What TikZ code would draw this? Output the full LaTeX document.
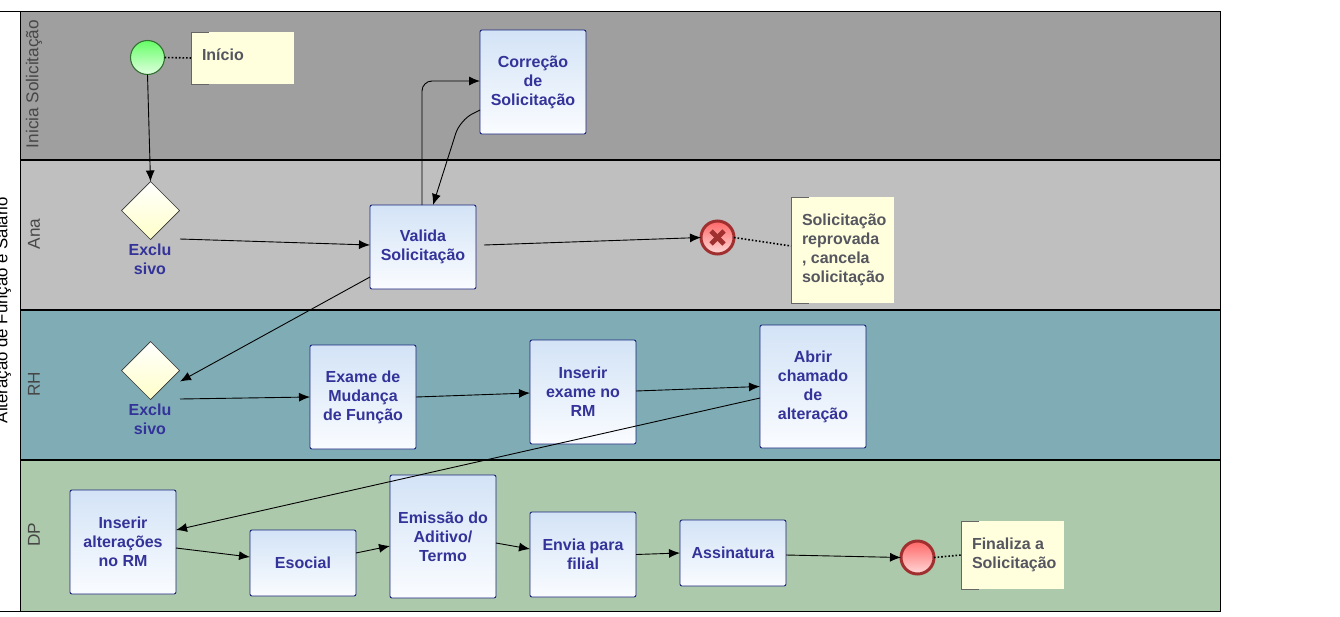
\documentclass[tikz,border=0pt]{standalone}
\usepackage{fontspec}
\setmainfont{Liberation Sans}
\usepackage{tikz}
\usetikzlibrary{arrows.meta, shapes.geometric}
\definecolor{laneA}{HTML}{9F9F9F}
\definecolor{laneB}{HTML}{BFBFBF}
\definecolor{laneC}{HTML}{80ADB5}
\definecolor{laneD}{HTML}{ADC9AB}
\definecolor{taskText}{HTML}{333399}
\definecolor{taskTop}{HTML}{D3E3F6}
\definecolor{taskBottom}{HTML}{FAFCFF}
\definecolor{taskLine}{HTML}{1A237E}
\definecolor{noteText}{HTML}{55565F}
\definecolor{noteFill}{HTML}{FFFFDE}
\definecolor{endLine}{HTML}{A03030}
\newcommand{\notebracket}[1]{
  \draw[bracket] ([xshift=18pt]#1.north west) -- (#1.north west) -- (#1.south west) -- ([xshift=18pt]#1.south west);
}
\tikzset{
  flow/.style={-{Latex[length=11pt,width=9pt]}, draw=black, line width=0.9pt},
  assoc/.style={dotted, draw=black, line width=1.6pt},
  bracket/.style={draw=black!60, line width=0.8pt},
  lanelabel/.style={rotate=90, text=black!72, font=\fontsize{17.2}{19}\selectfont},
  task/.style={draw=taskLine, line width=0.9pt, rounded corners=2pt, top color=taskTop, bottom color=taskBottom,
    inner sep=0pt, outer sep=0pt, align=center, text=taskText, font=\bfseries\fontsize{16}{19}\selectfont,
    execute at begin node={\vspace*{1.6pt}}},
  note/.style={fill=noteFill, inner sep=0pt, outer sep=0pt, text=noteText, font=\bfseries\fontsize{16}{19}\selectfont},
  gateway/.style={diamond, aspect=1, draw=black!80, line width=0.7pt, minimum size=58pt, inner sep=0pt, outer sep=0pt,
    top color=white, bottom color=noteFill!90!yellow},
  gatelabel/.style={align=center, text=taskText, inner sep=0pt, font=\bfseries\fontsize{16}{19}\selectfont},
  startevent/.style={circle, draw=green!30!black!80, line width=1.1pt, minimum size=34pt, inner sep=0pt, outer sep=0pt,
    top color=green!60!white, bottom color=green!12!white},
  endevent/.style={circle, draw=endLine, line width=3pt, minimum size=33pt, inner sep=0pt, outer sep=0pt,
    top color=red!60!white, bottom color=red!15!white},
  crossmark/.style={draw=endLine, line width=4.8pt}
}

\begin{document}
\begin{tikzpicture}[x=1pt, y=-1pt]
  \useasboundingbox (0,0) rectangle (1340,616);
  \fill[white] (0,0) rectangle (1340,616);
  \fill[laneA] (20,11) rectangle (1220,160);
  \fill[laneB] (20,160) rectangle (1220,310);
  \fill[laneC] (20,310) rectangle (1220,460);
  \fill[laneD] (20,460) rectangle (1220,611);
  \foreach \ypos in {160,310,460} {
    \draw[line width=1.6pt] (20,\ypos) -- (1220,\ypos);
  }
  \draw[line width=0.9pt] (0,11) -- (1220,11) -- (1220,611) -- (0,611);
  \draw[line width=0.9pt] (20,11) -- (20,611);

  \node[rotate=90, font=\fontsize{16.8}{19}\selectfont] (pool) at (3,310) {Alteração de Função e Salário};
  \node[lanelabel] (lane1) at (34,84) {Inicia Solicitação};
  \node[lanelabel] (lane2) at (34,234) {Ana};
  \node[lanelabel] (lane3) at (34,384) {RH};
  \node[lanelabel] (lane4) at (34,535) {DP};

  \node[startevent] (start) at (147.5,57.5) {};
  \node[note, minimum width=103pt, minimum height=52pt] (noteStart) at (242.5,58) {};
  \node[note, anchor=west] (noteStartText) at (202,55) {Início};
  \notebracket{noteStart}

  \node[gateway] (gate1) at (150.5,210.5) {};
  \node[gatelabel] (gate1Text) at (150,259.5) {Exclu\\sivo};
  \node[gateway] (gate2) at (150.5,370.5) {};
  \node[gatelabel] (gate2Text) at (150,419.5) {Exclu\\sivo};

  \node[task, minimum width=106pt, minimum height=104pt] (fix) at (533,82) {Correção\\de\\Solicitação};
  \node[task, minimum width=106pt, minimum height=84pt] (check) at (423,247) {Valida\\Solicitação};
  \node[task, minimum width=106pt, minimum height=104pt] (exam) at (363,397) {Exame de\\Mudança\\de Função};
  \node[task, minimum width=106pt, minimum height=104pt] (insExam) at (583,392) {Inserir\\exame no\\RM};
  \node[task, minimum width=106pt, minimum height=123pt] (ticket) at (813,386.5) {Abrir\\chamado\\de\\alteração};
  \node[task, minimum width=106pt, minimum height=104pt] (insAlt) at (123,542) {Inserir\\alterações\\no RM};
  \node[task, minimum width=106pt, minimum height=66pt] (esocial) at (303,563) {Esocial};
  \node[task, minimum width=106pt, minimum height=123pt] (term) at (443,536.5) {Emissão do\\Aditivo/\\Termo};
  \node[task, minimum width=106pt, minimum height=85pt] (branch) at (583,554.5) {Envia para\\filial};
  \node[task, minimum width=106pt, minimum height=66pt] (sign) at (733,553) {Assinatura};

  \node[endevent] (reject) at (717.5,237.5) {};
  \draw[crossmark] ([shift={(-6.5pt,-6.5pt)}]reject.center) -- ([shift={(6.5pt,6.5pt)}]reject.center);
  \draw[crossmark] ([shift={(-6.5pt,6.5pt)}]reject.center) -- ([shift={(6.5pt,-6.5pt)}]reject.center);
  \node[note, minimum width=103pt, minimum height=106pt] (noteReject) at (842.5,250) {};
  \node[note, anchor=west, align=left] (noteRejectText) at (802,250) {Solicitação\\reprovada\\, cancela\\solicitação};
  \notebracket{noteReject}

  \node[endevent] (finish) at (917.5,557.5) {};
  \node[note, minimum width=103pt, minimum height=68pt] (noteEnd) at (1012.5,555) {};
  \node[note, anchor=west, align=left] (noteEndText) at (972,554.5) {Finaliza a\\Solicitação};
  \notebracket{noteEnd}

  \coordinate (gate1Out) at (180,239);
  \coordinate (gate2In) at (180,381.5);
  \coordinate (gate2Out) at (180,399);
  \coordinate (checkOut) at (484,245);

  \draw[flow] (start.south) -- (gate1.north);
  \draw[flow] (gate1Out) -- ([yshift=2pt]check.west);
  \draw[flow, rounded corners=10pt] ([xshift=-1pt]check.north) -- (422,81) -- ([yshift=1pt]fix.west);
  \draw[flow, rounded corners=14pt] ([yshift=-28pt]fix.west) -- (460,120) -- ([xshift=10pt]check.north);
  \draw[flow] (checkOut) -- (reject.west);
  \draw[flow] ([yshift=-30pt]check.west) -- (gate2In);
  \draw[flow] (gate2Out) -- (exam.west);
  \draw[flow] (exam.east) -- ([yshift=-1pt]insExam.west);
  \draw[flow] ([yshift=1pt]insExam.east) -- (ticket.west);
  \draw[flow] ([yshift=-11.5pt]ticket.west) -- ([yshift=12pt]insAlt.east);
  \draw[flow] ([yshift=-6pt]insAlt.east) -- ([yshift=6pt]esocial.west);
  \draw[flow] ([yshift=10pt]esocial.east) -- ([yshift=-9.5pt]term.west);
  \draw[flow] ([yshift=-6.5pt]term.east) -- ([yshift=5.5pt]branch.west);
  \draw[flow] (branch.east) -- (sign.west);
  \draw[flow] ([yshift=-2pt]sign.east) -- (finish.west);

  \draw[assoc] (start.east) -- (noteStart.west);
  \draw[assoc] (reject.east) -- ([yshift=4pt]noteReject.west);
  \draw[assoc] (finish.east) -- (noteEnd.west);
\end{tikzpicture}
\end{document}
